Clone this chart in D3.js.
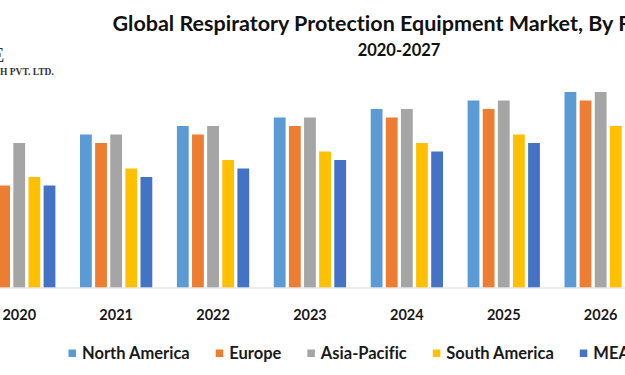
<!DOCTYPE html>
<html>
<head>
<meta charset="utf-8">
<script src="https://cdn.jsdelivr.net/npm/d3@7"></script>
<style>
  html, body { margin: 0; padding: 0; background: #fff; overflow: hidden; }
  svg { display: block; font-family: Lato, "Open Sans", sans-serif; font-variant-ligatures: none; }
</style>
</head>
<body>
<div id="chart"></div>
<script>
// Set dimensions
const width = 625,
    height = 375;

// Data (arbitrary units)
const years = ["2020", "2021", "2022", "2023", "2024", "2025", "2026", "2027"];
const regions = ["North America", "Europe", "Asia-Pacific", "South America", "MEA"];
const northAmerica = [17, 18, 19, 20, 21, 22, 23, 24];
const europe       = [12, 17, 18, 19, 20, 21, 22, 23];
const asiaPacific  = [17, 18, 19, 20, 21, 22, 23, 24];
const southAmerica = [13, 14, 15, 16, 17, 18, 19, 20];
const mea          = [12, 13, 14, 15, 16, 17, 18, 19];
const seriesValues = [northAmerica, europe, asiaPacific, southAmerica, mea];

const colors = ["#5B9BD5", "#ED7D31", "#A5A5A5", "#FFC000", "#4472C4"];

// build rows for d3
const data = years.map((y, i) => {
    const row = {year: y};
    regions.forEach((r, j) => row[r] = seriesValues[j][i]);
    return row;
});

// Append SVG
const svg = d3.select("#chart")
.append("svg")
.attr("width", width)
.attr("height", height);

const baseY = 287.5;

// Scales
const x0 = d3.scaleBand()
    .domain(years)
    .range([-16.9, 733.7])
    .paddingInner(0.254)
    .paddingOuter(0);

const x1 = d3.scaleBand()
    .domain(regions)
    .range([0, x0.bandwidth()])
    .paddingInner(0.22);

const y = d3.scaleLinear()
    .domain([0, 25])
    .range([baseY, baseY - 25 * 8.5]);

const color = d3.scaleOrdinal()
    .domain(regions)
    .range(colors);

// Title
svg.append("text")
    .attr("x", 112.5)
    .attr("y", 31)
    .style("font-size", "21.5px")
    .style("font-weight", "bold")
    .style("fill", "#111")
    .text("Global Respiratory Protection Equipment Market, By Region (USD Bn)");

svg.append("text")
    .attr("x", 399)
    .attr("y", 55.5)
    .attr("text-anchor", "middle")
    .style("font-size", "16.5px")
    .style("font-weight", "bold")
    .style("fill", "#111")
    .text("2020-2027");

// Logo remnant (cropped in the original)
svg.append("text")
    .attr("x", -9)
    .attr("y", 62)
    .style("font-family", "'Liberation Serif', serif")
    .style("font-size", "22px")
    .style("fill", "#333")
    .text("E");

svg.append("text")
    .attr("x", 0)
    .attr("y", 75)
    .style("font-family", "'Liberation Serif', serif")
    .style("font-size", "9.5px")
    .style("font-weight", "bold")
    .style("fill", "#333")
    .text("H PVT. LTD.");

// Bars
const groups = svg.selectAll(".group")
    .data(data)
    .enter()
    .append("g")
    .attr("class", "group")
    .attr("transform", d => `translate(${x0(d.year)},0)`);

groups.selectAll("rect")
    .data(d => regions.map(r => ({key: r, value: d[r]})))
    .enter()
    .append("rect")
    .attr("x", d => x1(d.key))
    .attr("y", d => y(d.value))
    .attr("width", x1.bandwidth())
    .attr("height", d => baseY - y(d.value))
    .attr("fill", d => color(d.key));

// X-axis baseline
svg.append("line")
    .attr("x1", 0)
    .attr("x2", width)
    .attr("y1", baseY + 0.5)
    .attr("y2", baseY + 0.5)
    .attr("stroke", "#D9D9D9")
    .attr("stroke-width", 1);

// Year labels
svg.selectAll(".year-label")
    .data(years)
    .enter()
    .append("text")
    .attr("class", "year-label")
    .attr("x", d => x0(d) + x0.bandwidth() / 2)
    .attr("y", 320)
    .attr("text-anchor", "middle")
    .style("font-size", "14.5px")
    .style("font-weight", "bold")
    .style("fill", "#1a1a1a")
    .text(d => d);

// Legend at bottom
const legend = svg.append("g")
    .attr("transform", "translate(68.5, 0)");

let lx = 0;
regions.forEach((r, i) => {
    const item = legend.append("g")
        .attr("transform", `translate(${lx}, 0)`);
    item.append("rect")
        .attr("x", 0)
        .attr("y", 349.5)
        .attr("width", 7.5)
        .attr("height", 7.5)
        .attr("fill", color(r));
    const t = item.append("text")
        .attr("x", 13.5)
        .attr("y", 358.5)
        .style("font-size", "16.5px")
        .style("font-weight", "bold")
        .style("fill", "#1a1a1a")
        .text(r);
    lx += 13.5 + t.node().getComputedTextLength() + 26;
});
</script>
</body>
</html>
